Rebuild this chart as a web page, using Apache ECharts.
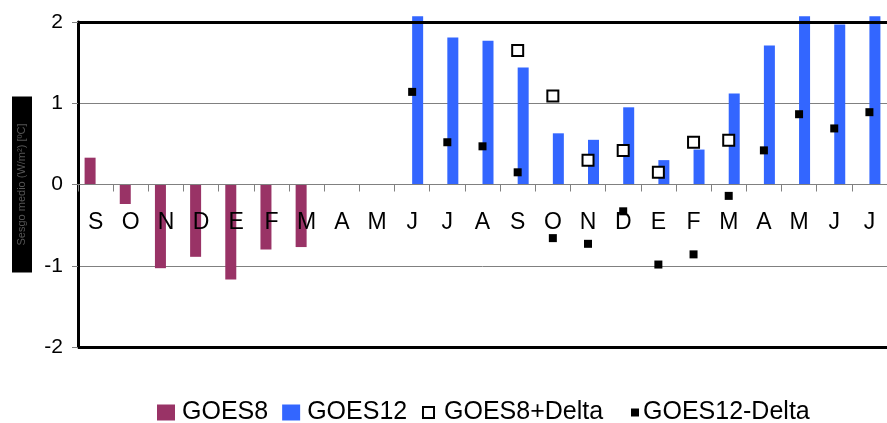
<!DOCTYPE html>
<html>
<head>
<meta charset="utf-8">
<script src="https://cdn.jsdelivr.net/npm/echarts@6/dist/echarts.min.js"></script>
<style>html,body{margin:0;padding:0;background:#fff}#c{width:887px;height:423px}</style>
</head>
<body>
<div id="c"></div>
<script>
var categories = ['S','O','N','D','E','F','M','A','M','J','J','A','S','O','N','D','E','F','M','A','M','J','J'];
var goes8 = [0.33,-0.24,-1.03,-0.89,-1.17,-0.80,-0.77,null,null,null,null,null,null,null,null,null,null,null,null,null,null,null,null];
var goes12 = [null,null,null,null,null,null,null,null,null,2.07,1.81,1.77,1.44,0.63,0.55,0.95,0.30,0.43,1.12,1.71,2.07,1.97,2.07];
var goes8Delta = [null,null,null,null,null,null,null,null,null,null,null,null,1.65,1.09,0.30,0.42,0.15,0.52,0.545,null,null,null,null];
var goes12Delta = [null,null,null,null,null,null,null,null,null,1.14,0.52,0.47,0.15,-0.66,-0.73,-0.33,-0.985,-0.86,-0.14,0.42,0.865,0.69,0.89];
var yTicks = [-2,-1,0,1,2];
var yName = 'Sesgo medio (W/m²) [ºC]';

var FONT = 'Arial, "Liberation Sans", sans-serif';
var chart = echarts.init(document.getElementById('c'));
var legendText = {fontSize: 25, color: '#000', fontFamily: FONT};
chart.setOption({
  animation: false,
  textStyle: {fontFamily: FONT},
  grid: {left: 78, right: -14, top: 22, bottom: 76, containLabel: false},
  legend: [{
    data: ['GOES8','GOES12'],
    left: 152, top: 395,
    itemWidth: 18, itemHeight: 16, itemGap: 14,
    icon: 'rect',
    textStyle: Object.assign({padding: [0,0,0,2]}, legendText)
  },{
    data: ['GOES8+Delta'],
    left: 417, top: 395,
    itemWidth: 11, itemHeight: 11,
    textStyle: Object.assign({padding: [0,0,0,5]}, legendText)
  },{
    data: ['GOES12-Delta'],
    left: 626, top: 395,
    itemWidth: 8, itemHeight: 8,
    textStyle: Object.assign({padding: [0,0,0,-1]}, legendText)
  }],
  xAxis: {
    type: 'category',
    data: categories,
    position: 'bottom',
    offset: -162.5,
    z: 5,
    axisLine: {onZero: false, lineStyle: {color: '#808080', width: 1}},
    axisTick: {show: true, length: 7, lineStyle: {color: '#808080'}},
    axisLabel: {interval: 0, margin: 27, fontSize: 23, color: '#000', fontFamily: FONT},
    splitLine: {show: false}
  },
  yAxis: {
    type: 'value',
    min: -2, max: 2, interval: 1,
    name: yName,
    nameLocation: 'middle',
    nameRotate: 90,
    nameGap: 46,
    nameTextStyle: {fontSize: 11, color: '#555', backgroundColor: '#000', padding: [4, 27, 5, 27], fontFamily: FONT},
    axisLine: {show: true, lineStyle: {color: '#000', width: 3}},
    axisTick: {show: true, length: 6, lineStyle: {color: '#808080'}},
    axisLabel: {fontSize: 21, color: '#000', margin: 15, fontFamily: FONT},
    splitLine: {show: true, lineStyle: {color: '#808080', width: 1}}
  },
  series: [{
    name: 'GOES8', type: 'bar', data: goes8,
    barWidth: 11, barGap: '0%', clip: false,
    itemStyle: {color: '#993366'},
    markLine: {
      silent: true, symbol: ['none','none'], label: {show: false},
      lineStyle: {color: '#000', width: 3, type: 'solid'},
      data: [{yAxis: yTicks[yTicks.length-1]}, {yAxis: yTicks[0]}]
    }
  },{
    name: 'GOES12', type: 'bar', data: goes12,
    barWidth: 11, barGap: '0%', clip: false,
    itemStyle: {color: '#3366FF'}
  },{
    name: 'GOES8+Delta', type: 'scatter', data: goes8Delta,
    symbol: 'rect', symbolSize: 11,
    itemStyle: {color: '#fff', borderColor: '#000', borderWidth: 2, opacity: 1},
    z: 6
  },{
    name: 'GOES12-Delta', type: 'scatter', data: goes12Delta,
    symbol: 'rect', symbolSize: 8,
    itemStyle: {color: '#000', opacity: 1},
    z: 7
  }]
});
</script>
</body>
</html>
